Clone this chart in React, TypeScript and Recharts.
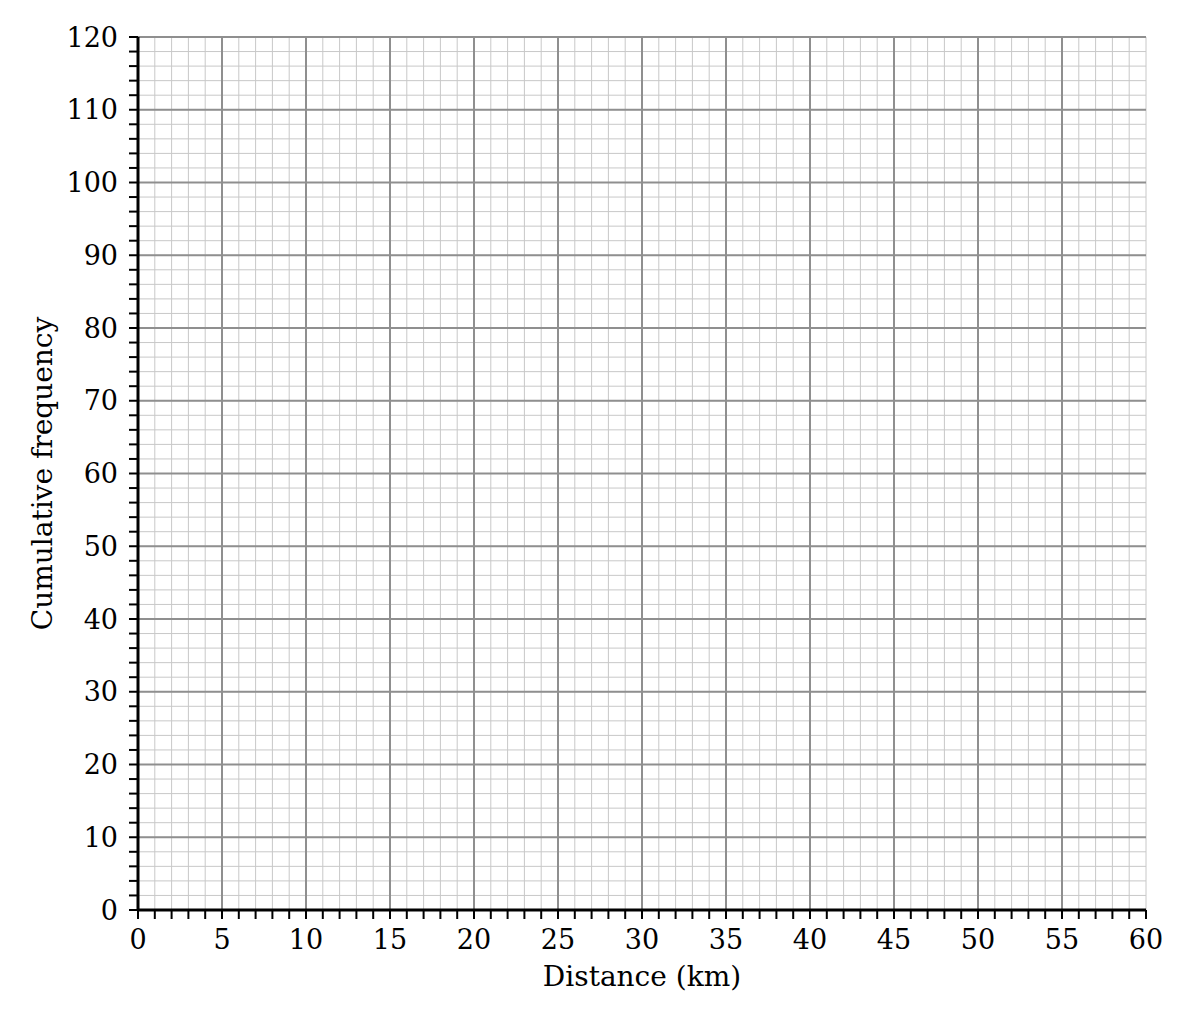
import React from "react";
import {
  ComposedChart,
  XAxis,
  YAxis,
  CartesianGrid,
  ReferenceLine,
  Label,
  Line,
} from "recharts";

const xTicks: number[] = [0,1,2,3,4,5,6,7,8,9,10,11,12,13,14,15,16,17,18,19,20,21,22,23,24,25,26,27,28,29,30,31,32,33,34,35,36,37,38,39,40,41,42,43,44,45,46,47,48,49,50,51,52,53,54,55,56,57,58,59,60];
const yTicks: number[] = [0,2,4,6,8,10,12,14,16,18,20,22,24,26,28,30,32,34,36,38,40,42,44,46,48,50,52,54,56,58,60,62,64,66,68,70,72,74,76,78,80,82,84,86,88,90,92,94,96,98,100,102,104,106,108,110,112,114,116,118,120];
const xLabelled: number[] = [0,5,10,15,20,25,30,35,40,45,50,55,60];
const yLabelled: number[] = [0,10,20,30,40,50,60,70,80,90,100,110,120];
const majorX: number[] = [5,10,15,20,25,30,35,40,45,50,55];
const majorY: number[] = [10,20,30,40,50,60,70,80,90,100,110,120];
const data: { x: number; y: number | null }[] = [];

const FONT = "'DejaVu Serif', serif";

export default function App() {
  return (
    <div style={{ position: "absolute", left: 0, top: 0, background: "#fff" }}>
      <ComposedChart
        width={1190}
        height={1020}
        data={data}
        margin={{ top: 37, right: 44, bottom: 40, left: 8 }}
      >
        <CartesianGrid
          stroke="#c8c8c8"
          strokeWidth={1}
          horizontalValues={yTicks}
          verticalValues={xTicks}
        />
        {majorX.map((v) => (
          <ReferenceLine key={"mx" + v} x={v} stroke="#8f8f8f" strokeWidth={2} ifOverflow="visible" />
        ))}
        {majorY.map((v) => (
          <ReferenceLine key={"my" + v} y={v} stroke="#8f8f8f" strokeWidth={2} ifOverflow="visible" />
        ))}
        <XAxis
          dataKey="x"
          type="number"
          domain={[0, 60]}
          ticks={xTicks}
          interval={0}
          allowDataOverflow
          height={70}
          tickSize={9}
          tickMargin={11}
          tickFormatter={(v: number) => (xLabelled.includes(v) ? String(v) : "")}
          tick={{ fill: "#000", fontSize: 27, fontFamily: FONT }}
          tickLine={{ stroke: "#000", strokeWidth: 2 }}
          axisLine={{ stroke: "#000", strokeWidth: 3 }}
        >
          <Label
            value="Distance (km)"
            position="insideBottom"
            offset={-6}
            style={{ fill: "#000", fontSize: 28, fontFamily: FONT }}
          />
        </XAxis>
        <YAxis
          type="number"
          domain={[0, 120]}
          ticks={yTicks}
          interval={0}
          allowDataOverflow
          width={130}
          tickSize={9}
          tickMargin={11}
          tickFormatter={(v: number) => (yLabelled.includes(v) ? String(v) : "")}
          tick={{ fill: "#000", fontSize: 27, fontFamily: FONT }}
          tickLine={{ stroke: "#000", strokeWidth: 2 }}
          axisLine={{ stroke: "#000", strokeWidth: 3 }}
        >
          <Label
            value="Cumulative frequency"
            angle={-90}
            position="insideLeft"
            offset={34}
            style={{ fill: "#000", fontSize: 28, fontFamily: FONT, textAnchor: "middle" }}
          />
        </YAxis>
        <Line dataKey="y" isAnimationActive={false} dot={false} stroke="#000" />
      </ComposedChart>
    </div>
  );
}
